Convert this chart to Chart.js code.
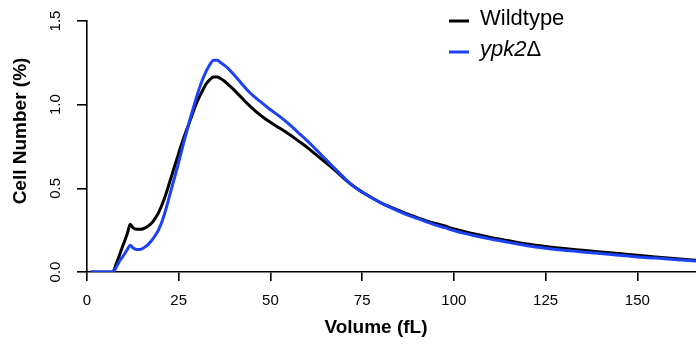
<!DOCTYPE html>
<html>
<head>
<meta charset="utf-8">
<script src="https://cdn.jsdelivr.net/npm/chart.js@4.4.1/dist/chart.umd.min.js"></script>
<style>
  html, body { margin: 0; padding: 0; background: #fff; }
  #wrap { width: 696px; height: 347px; }
</style>
</head>
<body>
<div id="wrap"><canvas id="sizeChart" width="696" height="347"></canvas></div>
<script>
const volume = [1, 4, 7, 8, 9, 10, 11, 11.8, 12.5, 13.5, 14.5, 15.5, 16.5, 17.5, 18.5, 19.5, 20.5,
  21.5, 22.5, 23.5, 24.5, 25.5, 26.5, 27.5, 28.5, 29.5, 30.5, 31.5, 32.5, 33.5, 34.5, 35.5, 36.5,
  37.5, 38.5, 40, 42, 44, 46, 48, 50, 52.5, 55, 57.5, 60, 62.5, 65, 67.5, 70, 72.5, 75, 77.5, 80,
  82.5, 85, 87.5, 90, 92.5, 95, 97.5, 100, 105, 110, 115, 120, 125, 130, 135, 140, 145, 150, 155,
  160, 166];

// Cell Number (%)
const wildtype = [0, 0, 0, 0.05, 0.11, 0.17, 0.23, 0.285, 0.265, 0.255, 0.255, 0.26, 0.272, 0.29,
  0.318, 0.355, 0.405, 0.465, 0.535, 0.605, 0.675, 0.745, 0.81, 0.87, 0.93, 0.99, 1.04, 1.085, 1.125,
  1.15, 1.165, 1.165, 1.155, 1.14, 1.12, 1.09, 1.045, 1.0, 0.96, 0.925, 0.895, 0.86, 0.825, 0.785,
  0.745, 0.70, 0.655, 0.61, 0.56, 0.515, 0.478, 0.445, 0.415, 0.39, 0.368, 0.345, 0.325, 0.305, 0.29,
  0.275, 0.257, 0.23, 0.207, 0.187, 0.167, 0.152, 0.14, 0.13, 0.12, 0.11, 0.10, 0.09, 0.08, 0.07];

const ypk2 = [0, 0, 0, 0.03, 0.07, 0.10, 0.135, 0.16, 0.145, 0.135, 0.135, 0.145, 0.16, 0.185,
  0.215, 0.252, 0.305, 0.375, 0.455, 0.535, 0.615, 0.70, 0.785, 0.865, 0.945, 1.02, 1.09, 1.15, 1.20,
  1.24, 1.265, 1.265, 1.25, 1.235, 1.215, 1.18, 1.13, 1.08, 1.04, 1.005, 0.97, 0.93, 0.885, 0.835,
  0.785, 0.73, 0.675, 0.62, 0.565, 0.515, 0.478, 0.445, 0.415, 0.388, 0.363, 0.34, 0.32, 0.30, 0.28,
  0.265, 0.247, 0.22, 0.197, 0.177, 0.157, 0.142, 0.13, 0.12, 0.11, 0.10, 0.09, 0.083, 0.075, 0.065];

const xTicks = [0, 25, 50, 75, 100, 125, 150];
const yTicks = [0, 0.5, 1.0, 1.5];

const FONT = "'Liberation Sans', Arial, Helvetica, sans-serif";
const BLUE = '#1c42f5';

function toPoints(ys) {
  return volume.map((v, i) => ({ x: v, y: ys[i] }));
}

// axis titles, rotated y tick labels and the legend, drawn like the R plot
const extras = {
  id: 'extras',
  afterDraw(chart) {
    const ctx = chart.ctx;
    const yScale = chart.scales.y;
    ctx.save();
    ctx.fillStyle = '#000';

    // y tick labels, reading bottom to top
    ctx.font = '15px ' + FONT;
    ctx.textAlign = 'center';
    ctx.textBaseline = 'middle';
    yTicks.forEach(t => {
      const py = yScale.getPixelForValue(t);
      ctx.save();
      ctx.translate(56, py);
      ctx.rotate(-Math.PI / 2);
      ctx.fillText(t.toFixed(1), 0, 0);
      ctx.restore();
    });

    // axis titles
    ctx.font = 'bold 19px ' + FONT;
    ctx.fillText('Volume (fL)', 376, 328);
    ctx.save();
    ctx.translate(21, 131);
    ctx.rotate(-Math.PI / 2);
    ctx.fillText('Cell Number (%)', 0, 0);
    ctx.restore();

    // legend
    ctx.lineWidth = 3;
    ctx.strokeStyle = '#000';
    ctx.beginPath(); ctx.moveTo(449, 21); ctx.lineTo(469, 21); ctx.stroke();
    ctx.strokeStyle = BLUE;
    ctx.beginPath(); ctx.moveTo(449, 52); ctx.lineTo(469, 52); ctx.stroke();
    ctx.textAlign = 'left';
    ctx.font = '22px ' + FONT;
    ctx.fillText('Wildtype', 480, 19);
    ctx.font = 'italic 22px ' + FONT;
    ctx.fillText('ypk2', 480, 50);
    const w = ctx.measureText('ypk2').width;
    ctx.font = '22px ' + FONT;
    ctx.fillText('\u0394', 480 + w, 50);
    ctx.restore();
  }
};

new Chart(document.getElementById('sizeChart'), {
  type: 'line',
  data: {
    datasets: [
      {
        label: 'Wildtype',
        data: toPoints(wildtype),
        borderColor: '#000',
        borderWidth: 3,
        pointRadius: 0,
        cubicInterpolationMode: 'monotone',
        order: 2
      },
      {
        label: 'ypk2\u0394',
        data: toPoints(ypk2),
        borderColor: BLUE,
        borderWidth: 3,
        pointRadius: 0,
        cubicInterpolationMode: 'monotone',
        order: 1
      }
    ]
  },
  options: {
    responsive: false,
    animation: false,
    layout: { padding: { top: 21, right: 0, left: 0, bottom: 0 } },
    plugins: { legend: { display: false }, tooltip: { enabled: false } },
    scales: {
      x: {
        type: 'linear',
        min: 0,
        max: 166,
        afterBuildTicks: scale => { scale.ticks = xTicks.map(v => ({ value: v })); },
        afterFit: scale => { scale.height = 75; },
        border: { color: '#000', width: 1.6 },
        grid: { display: true, drawOnChartArea: false, drawTicks: true, tickLength: 9, color: '#000', lineWidth: 1.6 },
        ticks: { color: '#000', font: { family: FONT, size: 15 }, padding: 11, maxRotation: 0 }
      },
      y: {
        min: 0,
        max: 1.5,
        afterBuildTicks: scale => { scale.ticks = yTicks.map(v => ({ value: v })); },
        afterFit: scale => { scale.width = 87; },
        border: { color: '#000', width: 1.6 },
        grid: { display: true, drawOnChartArea: false, drawTicks: true, tickLength: 10, color: '#000', lineWidth: 1.6 },
        ticks: { display: false }
      }
    }
  },
  plugins: [extras]
});
</script>
</body>
</html>
